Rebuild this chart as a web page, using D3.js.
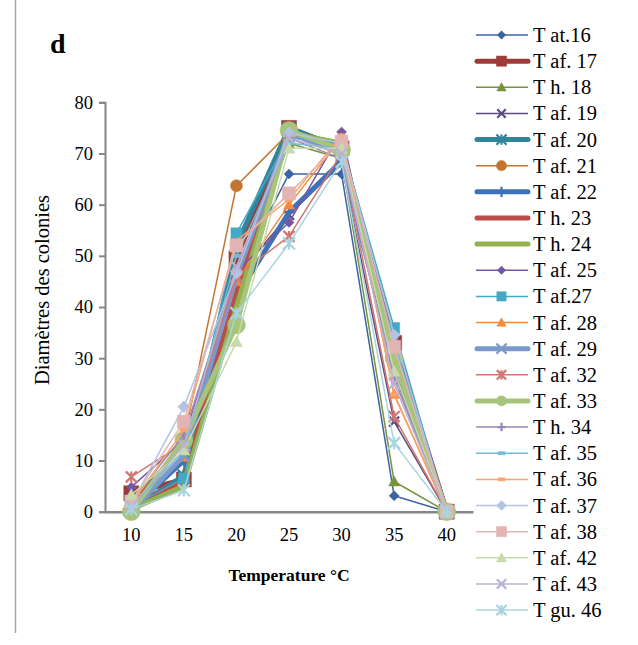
<!DOCTYPE html>
<html><head><meta charset="utf-8">
<script src="https://cdn.jsdelivr.net/npm/d3@7"></script>
<style>body{margin:0;background:#fff}svg{display:block}text{font-family:"Liberation Serif","Times New Roman",serif}</style>
</head><body><svg id="c" width="638" height="645"></svg>
<script>
const temperatures = ["10","15","20","25","30","35","40"];
const yTicks = [0,10,20,30,40,50,60,70,80];
const seriesNames = ["T at.16","T af. 17","T h. 18","T af. 19","T af. 20","T af. 21","T af. 22","T h. 23","T h. 24","T af. 25","T af.27","T af. 28","T af. 29","T af. 32","T af. 33","T h. 34","T af. 35","T af. 36","T af. 37","T af. 38","T af. 42","T af. 43","T gu. 46"];
const s_Tat16 = [1, 11, 46, 66, 66, 3.1, 0];
const s_Taf17 = [3.6, 6.3, 49.5, 75, 71, 33, 0];
const s_Th18  = [2, 13, 45, 72, 69, 5.9, 0];
const s_Taf19 = [2.5, 13, 46, 58, 68, 17.6, 0];
const s_Taf20 = [0.5, 7, 52, 75, 71, 31, 0];
const s_Taf21 = [1, 14, 63.7, 74, 72, 30, 0];
const s_Taf22 = [0.5, 10, 42, 58.5, 68.5, 29, 0];
const s_Th23  = [1, 6, 43, 74, 71, 31, 0];
const s_Th24  = [0.5, 5, 40, 74, 72, 29, 0];
const s_Taf25 = [4.8, 14, 47, 56.5, 74.2, 27, 0];
const s_Taf27 = [1, 6.5, 54.4, 73, 72, 35.9, 0];
const s_Taf28 = [1.5, 10.7, 45, 60, 73, 23, 0];
const s_Taf29 = [0, 11, 46, 74, 70, 30, 0];
const s_Taf32 = [6.8, 13.4, 46, 53.8, 70, 18.6, 0];
const s_Taf33 = [0, 14, 36.5, 74.5, 70.7, 30, 0];
const s_Th34  = [2, 15, 47, 73, 69, 26, 0];
const s_Taf35 = [1, 12, 50, 72, 71, 33, 0];
const s_Taf36 = [1.5, 16, 53, 61, 73.5, 22.8, 0];
const s_Taf37 = [1.5, 20.5, 46.6, 74, 72, 34.5, 0];
const s_Taf38 = [2, 17.6, 52, 62.2, 72.3, 32.2, 0];
const s_Taf42 = [3.3, 12, 33.2, 71, 71, 27.4, 0];
const s_Taf43 = [1, 13, 47.9, 73, 70, 25, 0];
const s_Tgu46 = [0.5, 4.2, 38.8, 52.4, 68.4, 13.4, 0];
const seriesValues = [s_Tat16,s_Taf17,s_Th18,s_Taf19,s_Taf20,s_Taf21,s_Taf22,s_Th23,s_Th24,s_Taf25,s_Taf27,s_Taf28,s_Taf29,s_Taf32,s_Taf33,s_Th34,s_Taf35,s_Taf36,s_Taf37,s_Taf38,s_Taf42,s_Taf43,s_Tgu46];

// styles
const colors = ["#3C64A0","#9E3A37","#77933C","#5F4A7E","#31849B","#C4742F","#3E72B8","#BE4B48","#92B14F","#7556A3","#45A8C4","#F38A3C","#7A9ACC","#D07673","#A8C47A","#9A86B8","#6FBCD2","#F9A46A","#B2C4E2","#E2B5B4","#C7DAAB","#BBB1D2","#A8D3E0"];
const widths = [1.5,5,1.5,1.5,5,1.5,5,5,5,1.5,1.5,1.5,5,1.5,5,1.5,1.5,1.5,1.5,1.5,1.5,1.5,1.5];
const markers = ["diamond","square","triangle","x","star","circle","plus",null,null,"diamond","square","triangle","x","star","circle","plus","dash","dash","diamond","square","triangle","x","star"];
const msize = [5,7.5,5.5,5,6,6,6,0,0,5,5.5,5.5,6,5.5,9,5,4,4,6,6.5,6,5.5,6];

const svg = d3.select("#c");
const M = {l:105, r:473, t:102.3, b:511.7};
const x = d3.scaleBand().domain(temperatures).range([M.l, M.r]);
const y = d3.scaleLinear().domain([0,80]).range([M.b, M.t]);
const grey = "#868686";

svg.append("line").attr("x1",15.5).attr("x2",15.5).attr("y1",0).attr("y2",633).attr("stroke","#a6a6a6").attr("stroke-width",1.5);

svg.append("text").attr("x",50).attr("y",53).attr("font-size",28).attr("font-weight","bold").text("d");

const yAxis = svg.append("g").attr("transform",`translate(${M.l},0)`)
  .call(d3.axisLeft(y).tickValues(yTicks).tickSize(6).tickPadding(6));
yAxis.select(".domain").attr("stroke",grey).attr("stroke-width",2);
yAxis.selectAll(".tick line").attr("stroke",grey).attr("stroke-width",2);
yAxis.selectAll(".tick text").attr("font-size",18.5).attr("font-family","Liberation Serif").attr("fill","#000");

const xAxis = svg.append("g").attr("transform",`translate(0,${M.b})`)
  .call(d3.axisBottom(x).tickSize(0).tickPadding(16));
xAxis.select(".domain").attr("stroke",grey).attr("stroke-width",2.5);
xAxis.selectAll(".tick text").attr("font-size",18.5).attr("font-family","Liberation Serif").attr("fill","#000");

svg.append("text").attr("x",289).attr("y",581).attr("text-anchor","middle").attr("font-size",17.5).attr("font-weight","bold").text("Temperature °C");
svg.append("text").attr("transform","translate(49,290) rotate(-90)").attr("text-anchor","middle").attr("font-size",20.5).text("Diamètres des colonies");

function markerPath(type, s){
  switch(type){
    case "diamond": return `M0,${-s}L${s},0L0,${s}L${-s},0Z`;
    case "square": return `M${-s},${-s}H${s}V${s}H${-s}Z`;
    case "triangle": return `M0,${-s}L${s},${s*0.8}L${-s},${s*0.8}Z`;
    case "x": return `M${-s},${-s}L${s},${s}M${s},${-s}L${-s},${s}`;
    case "star": return `M${-s},${-s}L${s},${s}M${s},${-s}L${-s},${s}M0,${-s}V${s}`;
    case "plus": return `M${-s},0H${s}M0,${-s}V${s}`;
    case "dash": return `M${-s},${-s*0.45}H${s}V${s*0.45}H${-s}Z`;
    case "circle": return d3.symbol(d3.symbolCircle, Math.PI*s*s)();
  }
  return "";
}
function drawMarker(g, type, s, c){
  if(!type) return;
  const open = (type==="x"||type==="star"||type==="plus");
  g.append("path").attr("d",markerPath(type,s))
    .attr("fill", open?"none":c).attr("stroke",c).attr("stroke-width", open?2.2:0.5);
}

const line = d3.line().x((d,i)=>x(temperatures[i])+x.bandwidth()/2).y(d=>y(d));
const plot = svg.append("g");
seriesValues.forEach((vals,k)=>{
  const g = plot.append("g");
  g.append("path").datum(vals).attr("d",line).attr("fill","none")
    .attr("stroke",colors[k]).attr("stroke-width",widths[k]).attr("stroke-linejoin","round").attr("stroke-linecap","round");
  vals.forEach((v,i)=>{
    const mg = g.append("g").attr("transform",`translate(${x(temperatures[i])+x.bandwidth()/2},${y(v)})`);
    drawMarker(mg, markers[k], msize[k], colors[k]);
  });
});

const lg = svg.append("g");
seriesNames.forEach((n,k)=>{
  const yy = 35 + k*26.14;
  const g = lg.append("g").attr("transform",`translate(0,${yy})`);
  g.append("line").attr("x1",widths[k]>3?477:476).attr("x2",528).attr("y1",0).attr("y2",0)
    .attr("stroke",colors[k]).attr("stroke-width",widths[k]).attr("stroke-linecap",widths[k]>3?"round":"butt");
  const mg = g.append("g").attr("transform","translate(501.5,0)");
  drawMarker(mg, markers[k], Math.min(msize[k],6)*0.85, colors[k]);
  g.append("text").attr("x",533).attr("y",7).attr("font-size",20.5).text(n);
});
</script></body></html>
